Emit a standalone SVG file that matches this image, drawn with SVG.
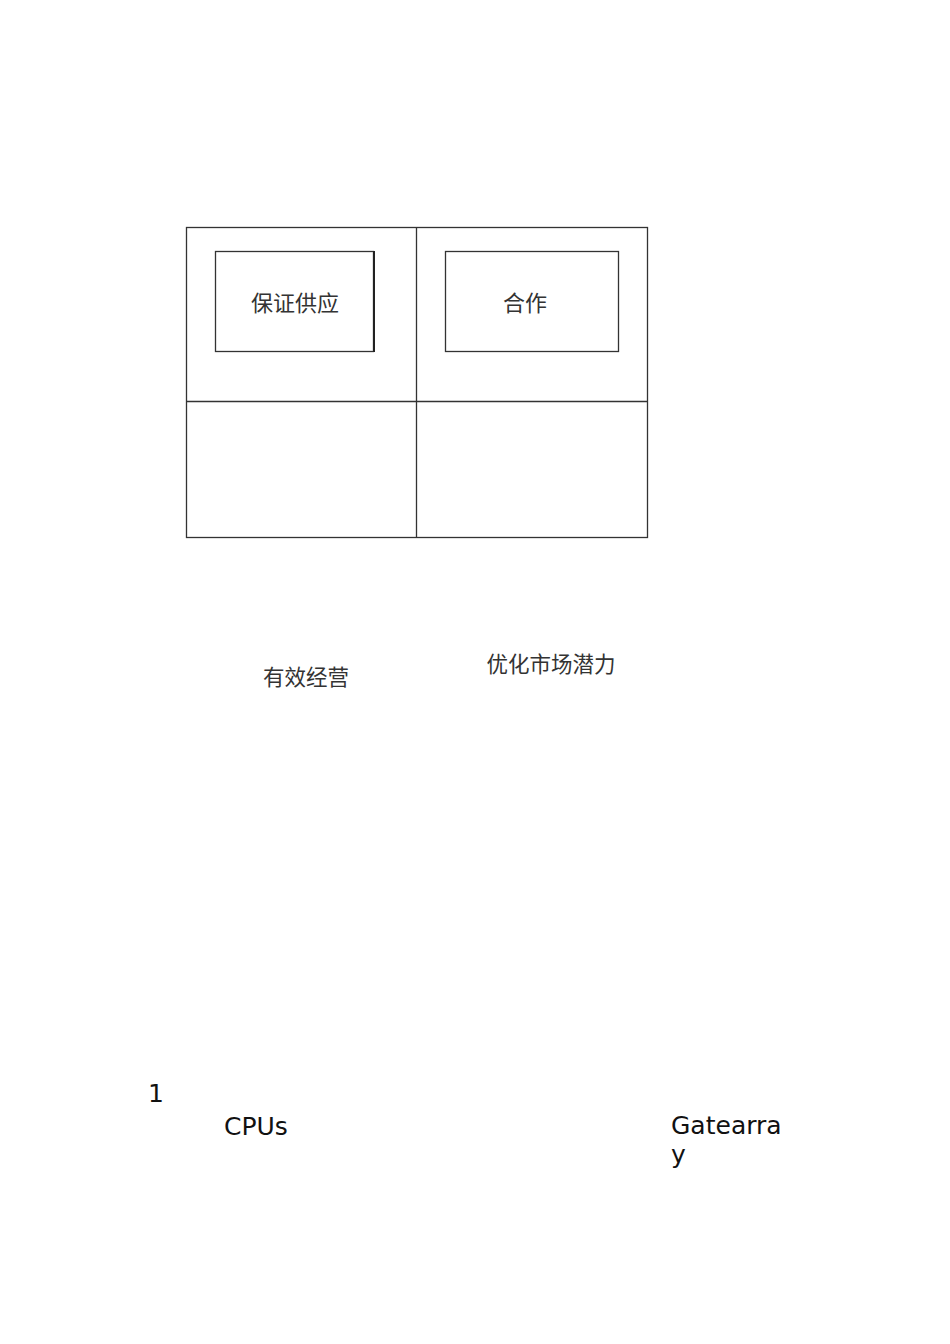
<svg xmlns="http://www.w3.org/2000/svg" width="950" height="1344" viewBox="0 0 950 1344">
<style>
.ln{fill:none;stroke:#333;stroke-width:1.3}
.cn{font-family:"Noto Sans CJK SC",sans-serif;font-size:22px;fill:#333}
.cs{font-family:"Noto Sans CJK SC",sans-serif;font-size:21.5px;fill:#333}
.en{font-family:"DejaVu Sans",sans-serif;font-size:25px;fill:#111}
</style>
<rect width="950" height="1344" fill="#fff"/>
<g id="grid">
<rect class="ln" x="186.5" y="227.5" width="461" height="310"/>
<line class="ln" x1="416.5" y1="227" x2="416.5" y2="538"/>
<line class="ln" x1="186" y1="401.5" x2="648" y2="401.5"/>
</g>
<g id="node-baozheng">
<rect class="ln" x="215.5" y="251.5" width="158" height="100"/>
<line x1="374" y1="251" x2="374" y2="352" stroke="#222" stroke-width="2"/>
<text class="cn" x="295" y="311" text-anchor="middle">保证供应</text>
</g>
<g id="node-hezuo">
<rect class="ln" x="445.5" y="251.5" width="173" height="100"/>
<text class="cn" x="525" y="311" text-anchor="middle">合作</text>
</g>
<g id="label-youxiao">
<text class="cs" x="306" y="685" text-anchor="middle">有效经营</text>
</g>
<g id="label-youhua">
<text class="cs" x="551" y="672" text-anchor="middle">优化市场潜力</text>
</g>
<g id="connectors"></g>
<text class="en" x="148" y="1102">1</text>
<text class="en" x="224" y="1135">CPUs</text>
<text class="en" x="671" y="1134">Gatearra</text>
<text class="en" x="671" y="1163">y</text>
</svg>
